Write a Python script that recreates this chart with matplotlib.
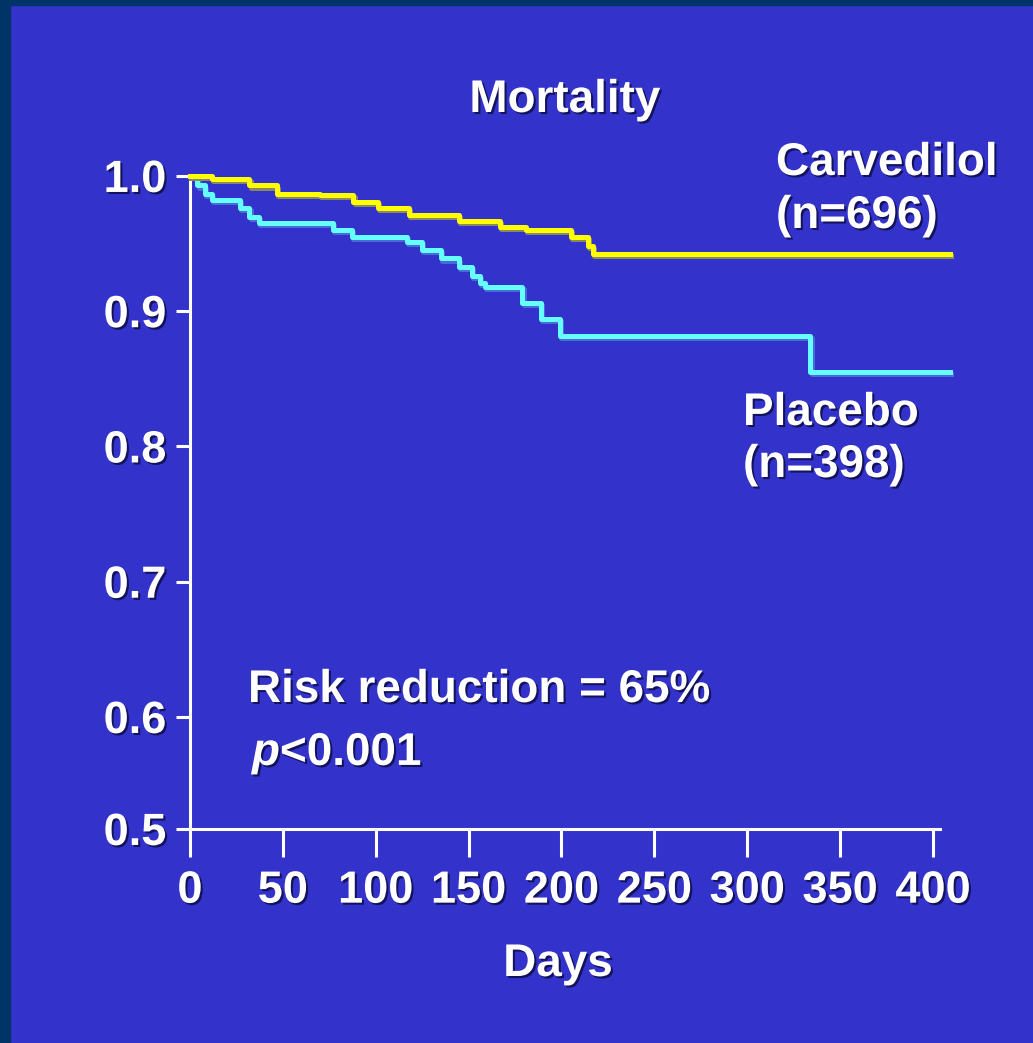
import matplotlib
matplotlib.use('Agg')
import matplotlib.pyplot as plt
import matplotlib.patheffects as pe
from matplotlib.patches import Rectangle

# Kaplan-Meier style survival curves
carv_days = [0, 12, 32, 47, 70, 88, 101, 118, 145, 167, 181, 205, 214, 217, 409]
carv_surv = [1.0, 0.998, 0.993, 0.987, 0.986, 0.981, 0.976, 0.971, 0.967, 0.962,
             0.960, 0.955, 0.948, 0.942, 0.942]

plac_days = [0, 4, 8, 12, 27, 32, 37, 77, 87, 117, 125, 135, 145, 152, 156, 159,
             179, 189, 199, 334, 409]
plac_surv = [1.0, 0.993, 0.987, 0.982, 0.976, 0.970, 0.965, 0.960, 0.955, 0.951,
             0.945, 0.939, 0.933, 0.926, 0.921, 0.918, 0.906, 0.894, 0.882, 0.855, 0.855]

x_ticks = [0, 50, 100, 150, 200, 250, 300, 350, 400]
y_ticks = [0.6, 0.7, 0.8, 0.9, 1.0]
y_labels = ['0.5', '0.6', '0.7', '0.8', '0.9', '1.0']

bg = '#3333CC'
plt.rcParams['font.family'] = ['Liberation Sans', 'DejaVu Sans']
plt.rcParams['font.weight'] = 'bold'
plt.rcParams['mathtext.fontset'] = 'custom'
plt.rcParams['mathtext.it'] = 'Liberation Sans:italic:bold'
plt.rcParams['mathtext.rm'] = 'Liberation Sans:bold'

fig = plt.figure(figsize=(10.33, 10.43), dpi=100, facecolor=bg)
# dark frame on the left and top of the slide
fig.patches.append(Rectangle((0, 0), 10 / 1033, 1, transform=fig.transFigure,
                             color='#003366', zorder=0))
fig.patches.append(Rectangle((0, 1 - 5 / 1043), 1, 5 / 1043, transform=fig.transFigure,
                             color='#003366', zorder=0))

ax = fig.add_axes([0.1839, 0.2052, 0.7373, 0.6261])
ax.set_facecolor(bg)
ylo = 0.5172
ax.set_xlim(0, 410)
ax.set_ylim(ylo, 1.0)

txt_fx = [pe.withSimplePatchShadow(offset=(1.5, -1.5), shadow_rgbFace='#101050', alpha=0.9)]

ax.plot(carv_days, carv_surv, drawstyle='steps-post', color='#FFFF00', lw=3.6,
        clip_on=False, zorder=4,
        path_effects=[pe.SimpleLineShadow(offset=(0.8, -1.5), shadow_color='#8a8a60', alpha=1),
                      pe.Normal()])
ax.plot(plac_days, plac_surv, drawstyle='steps-post', color='#66FFFF', lw=3.6,
        clip_on=False, zorder=3,
        path_effects=[pe.SimpleLineShadow(offset=(0.8, -1.5), shadow_color='#4a6ad8', alpha=1),
                      pe.Normal()])

for side in ['top', 'right']:
    ax.spines[side].set_visible(False)
for side in ['left', 'bottom']:
    ax.spines[side].set_color('white')
    ax.spines[side].set_linewidth(2.2)
ax.spines['bottom'].set_bounds(0, 404)

ax.set_xticks(x_ticks)
ax.set_xticklabels([str(v) for v in x_ticks])
ax.set_yticks([ylo] + y_ticks)
ax.set_yticklabels(y_labels)
ax.tick_params(axis='x', colors='white', length=20, width=2.2, pad=10, labelsize=32.5)
ax.tick_params(axis='y', colors='white', length=10, width=2.2, pad=7, labelsize=32.5)
for lab in ax.get_xticklabels() + ax.get_yticklabels():
    lab.set_path_effects(txt_fx)
    lab.set_fontweight('bold')

def ftext(x, y, s, **kw):
    fig.text(x / 1033, 1 - y / 1043, s, color='white', fontsize=33, fontweight='bold',
             va='baseline', path_effects=txt_fx, **kw)

ftext(565, 112, 'Mortality', ha='center')
ftext(776, 175, 'Carvedilol')
ftext(776, 228, '(n=696)')
ftext(743, 425, 'Placebo')
ftext(743, 477, '(n=398)')
ftext(248, 702, 'Risk reduction = 65%')
ftext(252, 765, r'$p$<0.001')
ftext(558, 976, 'Days', ha='center')

fig.savefig('out.png', dpi=100, facecolor=bg)
